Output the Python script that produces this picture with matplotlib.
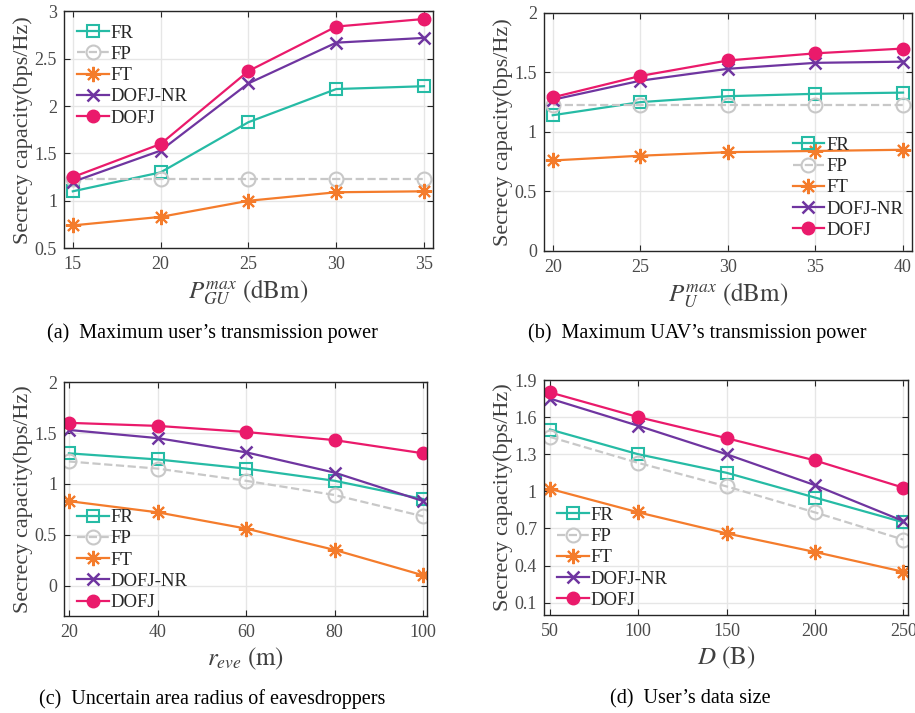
import matplotlib
matplotlib.use('Agg')
import matplotlib.pyplot as plt
import numpy as np

plt.rcParams['font.family'] = ['Liberation Serif', 'DejaVu Serif']
plt.rcParams['mathtext.fontset'] = 'stix'

# data
labels = ['FR', 'FP', 'FT', 'DOFJ-NR', 'DOFJ']

x_a = [15, 20, 25, 30, 35]
a_FR = [1.10, 1.30, 1.83, 2.18, 2.21]
a_FP = [1.23, 1.23, 1.23, 1.23, 1.23]
a_FT = [0.74, 0.83, 1.00, 1.09, 1.10]
a_NR = [1.20, 1.53, 2.24, 2.67, 2.72]
a_DOFJ = [1.25, 1.60, 2.37, 2.84, 2.92]

x_b = [20, 25, 30, 35, 40]
b_FR = [1.14, 1.25, 1.30, 1.32, 1.33]
b_FP = [1.23, 1.23, 1.23, 1.23, 1.23]
b_FT = [0.76, 0.80, 0.83, 0.84, 0.85]
b_NR = [1.27, 1.43, 1.53, 1.58, 1.59]
b_DOFJ = [1.29, 1.47, 1.60, 1.66, 1.70]

x_c = [20, 40, 60, 80, 100]
c_FR = [1.30, 1.24, 1.15, 1.03, 0.85]
c_FP = [1.22, 1.15, 1.03, 0.89, 0.68]
c_FT = [0.83, 0.72, 0.56, 0.35, 0.10]
c_NR = [1.53, 1.45, 1.31, 1.11, 0.83]
c_DOFJ = [1.60, 1.57, 1.51, 1.43, 1.30]

x_d = [50, 100, 150, 200, 250]
d_FR = [1.50, 1.30, 1.15, 0.95, 0.75]
d_FP = [1.44, 1.23, 1.04, 0.83, 0.61]
d_FT = [1.02, 0.83, 0.66, 0.51, 0.35]
d_NR = [1.75, 1.53, 1.30, 1.05, 0.76]
d_DOFJ = [1.80, 1.60, 1.43, 1.25, 1.03]

colors = ['#26bba5', '#c8c8c8', '#f47c2c', '#6f35a0', '#ea1a6b']
styles = [
    dict(marker='s', ls='-', mfc='none', ms=8, mew=1.5),
    dict(marker='o', ls='--', mfc='none', ms=10, mew=1.5),
    dict(marker=(8, 2, 0), ls='-', ms=11, mew=1.5),
    dict(marker='x', ls='-', ms=9, mew=1.8),
    dict(marker='o', ls='-', ms=9, mew=1.0),
]

fig = plt.figure(figsize=(9.15, 7.13), dpi=100)


def panel(rect, x, ys, xlim, ylim, yticks, xlabel, caption, cap_xy, legkw):
    ax = fig.add_axes(rect)
    for y, c, st, lab in zip(ys, colors, styles, labels):
        ax.plot(x, y, color=c, lw=1.6, label=lab, **st)
    ax.set_xlim(*xlim)
    ax.set_ylim(*ylim)
    ax.set_xticks(x)
    ax.set_yticks(yticks)
    ax.set_yticklabels(['%g' % t for t in yticks])
    ax.grid(True, color='#e6e6e6', lw=1.0)
    ax.set_axisbelow(True)
    ax.tick_params(direction='in', top=True, right=True, labelsize=13,
                   colors='#262626', labelcolor='#4a4a4a', length=4)
    ax.tick_params(axis='x', pad=6)
    ax.tick_params(axis='y', pad=5)
    for s in ax.spines.values():
        s.set_color('#262626')
        s.set_linewidth(1.0)
    ax.set_ylabel('Secrecy capacity(bps/Hz)', fontsize=16, color='#404040', labelpad=1)
    ax.set_xlabel(xlabel, fontsize=18, color='#404040', labelpad=3)
    leg = ax.legend(frameon=False, fontsize=13.5, handlelength=1.7, handletextpad=0.1,
                    labelspacing=0.22, borderpad=0.2, **legkw)
    for t in leg.get_texts():
        t.set_color('#262626')
    fig.text(cap_xy[0] / 915, 1 - cap_xy[1] / 713, caption,
             ha='center', va='center', fontsize=14.5)
    return ax


panel([0.070, 0.652, 0.403, 0.332], x_a, [a_FR, a_FP, a_FT, a_NR, a_DOFJ],
      (14.5, 35.5), (0.5, 3.0), [0.5, 1, 1.5, 2, 2.5, 3],
      r'$P_{GU}^{max}\ (\mathrm{dBm})$',
      '(a)  Maximum user\u2019s transmission power', (212, 333),
      dict(loc='upper left', bbox_to_anchor=(0.0, 1.0)))

panel([0.5945, 0.648, 0.402, 0.334], x_b, [b_FR, b_FP, b_FT, b_NR, b_DOFJ],
      (19.5, 40.5), (0, 2), [0, 0.5, 1, 1.5, 2],
      r'$P_{U}^{max}\ (\mathrm{dBm})$',
      '(b)  Maximum UAV\u2019s transmission power', (697, 333),
      dict(loc='upper left', bbox_to_anchor=(0.64, 0.535)))

panel([0.070, 0.136, 0.397, 0.328], x_c, [c_FR, c_FP, c_FT, c_NR, c_DOFJ],
      (18.9, 100.9), (-0.3, 2), [0, 0.5, 1, 1.5, 2],
      r'$r_{eve}\ (\mathrm{m})$',
      '(c)  Uncertain area radius of eavesdroppers', (212, 699),
      dict(loc='lower left', bbox_to_anchor=(0.0, -0.035)))

panel([0.5945, 0.1374, 0.398, 0.3296], x_d, [d_FR, d_FP, d_FT, d_NR, d_DOFJ],
      (46.6, 252.8), (0, 1.9), [0.1, 0.4, 0.7, 1, 1.3, 1.6, 1.9],
      r'$D\ (\mathrm{B})$',
      '(d)  User\u2019s data size', (690, 699),
      dict(loc='lower left', bbox_to_anchor=(0.0, -0.03)))

fig.savefig('out.png', dpi=100)
